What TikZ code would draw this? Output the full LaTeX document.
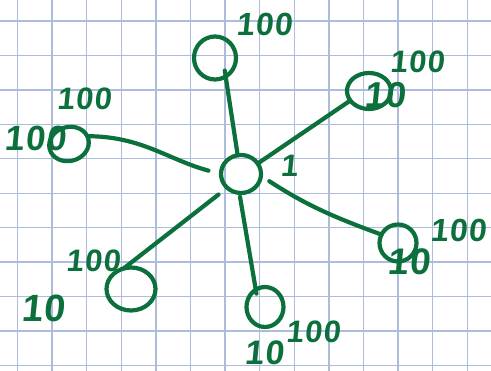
\documentclass[tikz,border=0pt]{standalone}
\usepackage{fontspec}
\newfontfamily\hand[FakeSlant=0.1, LetterSpace=4]{Liberation Sans}
\usetikzlibrary{shapes.geometric}
\definecolor{pen}{RGB}{12,112,60}
\definecolor{gridc}{RGB}{172,188,218}
\begin{document}
\begin{tikzpicture}[x=1pt,y=1pt,
  pen/.style={draw=pen, line width=4.2pt, line cap=round, line join=round},
  blob/.style={pen, ellipse, inner sep=0pt, outer sep=0pt},
  txt/.style={text=pen, inner sep=0pt, font=\hand\bfseries\fontsize{#1}{#1}\selectfont},
  gline/.style={draw=gridc, line width=1.4pt}]
\fill[white] (0,0) rectangle (491,371);
\useasboundingbox (0,0) rectangle (491,371);
% grid paper
\foreach \k in {0,...,13} \draw[gline] ({17.5+34.6*\k},0) -- ({17.5+34.6*\k},371);
\foreach \k in {0,...,10} \draw[gline] (0,{350-34.45*\k}) -- (491,{350-34.45*\k});
% nodes
\node[blob, minimum width=40pt, minimum height=38pt] (c) at (241,197) {};
\node[blob, minimum width=42pt, minimum height=43pt] (t) at (215,313) {};
\node[blob, minimum width=44pt, minimum height=36pt] (ur) at (369,280) {};
\node[blob, minimum width=40pt, minimum height=34pt, rotate=15] (l) at (69,227) {};
\node[blob, minimum width=37pt, minimum height=37pt] (r) at (398,128) {};
\node[blob, minimum width=37pt, minimum height=40pt] (b) at (265,64) {};
\node[blob, minimum width=49pt, minimum height=43pt] (ll) at (131,82) {};
% labels
\node[txt=31] (one) at (289,205) {1};
\node[txt=32] (tx) at (264,347) {100};
\node[txt=35] (lb) at (35,233) {100};
\node[txt=31] (lx) at (84,272) {100};
\node[txt=36] (urb) at (385,276) {10};
\node[txt=31] (urx) at (417,309) {100};
\node[txt=37] (rb) at (409,109) {10};
\node[txt=32] (rx) at (458,141) {100};
\node[txt=34] (bb) at (264,18) {10};
\node[txt=31] (bx) at (313,39) {100};
\node[txt=38] (llb) at (43,63) {10};
\node[txt=31] (llx) at (93,110) {100};
% connectors
\draw[pen, shorten >=-6pt] (c.100) -- (t.-60);
\draw[pen] (c.32) -- (ur.207);
\draw[pen, shorten <=13pt] (c.west) to[out=165, in=0] (l.8);
\draw[pen, shorten <=10pt] (c.-5) to[out=-33, in=160] (r.153);
\draw[pen, shorten <=4pt, shorten >=-4pt] (c.-95) -- (b.118);
\draw[pen, shorten <=11pt] (c.225) -- (ll.110);
\end{tikzpicture}
\end{document}
